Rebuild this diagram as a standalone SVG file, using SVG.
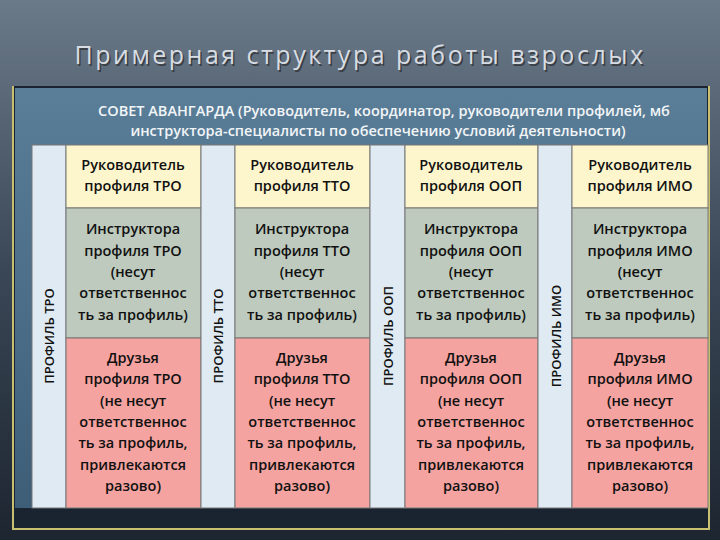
<svg xmlns="http://www.w3.org/2000/svg" width="720" height="540" viewBox="0 0 720 540">
<defs>
<linearGradient id="bg" x1="0" y1="0" x2="0" y2="1"><stop offset="0" stop-color="#6b7a89"/><stop offset="0.5" stop-color="#3a4756"/><stop offset="1" stop-color="#1d2530"/></linearGradient>
<linearGradient id="pn" x1="0" y1="0" x2="0" y2="1"><stop offset="0" stop-color="#5a7e98"/><stop offset="1" stop-color="#3e5e78"/></linearGradient>
<style>
.t{font-family:"Open Sans","DejaVu Sans",sans-serif;font-size:14.5px;font-weight:600;text-anchor:middle;fill:#111}
.s{font-family:"Open Sans","DejaVu Sans",sans-serif;font-size:13px;font-weight:600;text-anchor:middle;fill:#111}
.h{fill:#fdf6cc;stroke:#777;stroke-width:1}
.i{fill:#bdcabd;stroke:#777;stroke-width:1}
.f{fill:#f4a3a0;stroke:#777;stroke-width:1}
.v{fill:#dfeaf2;stroke:#777;stroke-width:1}
</style>
</defs>
<rect width="720" height="540" fill="url(#bg)"/>
<text x="360" y="64" font-family="'Open Sans','DejaVu Sans',sans-serif" font-size="25" letter-spacing="2.5" text-anchor="middle" fill="#222" opacity="0.6" dx="1.5" dy="1.5">Примерная структура работы взрослых</text>
<text x="360" y="64" font-family="'Open Sans','DejaVu Sans',sans-serif" font-size="25" letter-spacing="2.5" text-anchor="middle" fill="#d8dde3">Примерная структура работы взрослых</text>
<rect x="12" y="86" width="697" height="444" fill="#1a2430"/>
<rect x="15" y="88" width="692" height="420" fill="url(#pn)"/>
<path d="M13 86V529H709V86" fill="none" stroke="#c8c070" stroke-width="2"/>
<g id="council" font-family="'Open Sans','DejaVu Sans',sans-serif" font-size="14.5" font-weight="600" text-anchor="middle" fill="#f2f5f7">
<text x="384" y="116">СОВЕТ АВАНГАРДА (Руководитель, координатор, руководители профилей, мб</text>
<text x="378" y="136">инструктора-специалисты по обеспечению условий деятельности)</text>
</g>
<g id="col-tro">
<rect class="v" x="32" y="145" width="34" height="363"/>
<text class="s" transform="translate(54,336) rotate(-90)">ПРОФИЛЬ ТРО</text>
<rect class="h" x="66" y="145" width="135" height="63"/>
<text class="t" x="133" y="170">Руководитель</text><text class="t" x="133" y="191">профиля ТРО</text>
<rect class="i" x="66" y="208" width="135" height="130"/>
<text class="t" x="133" y="234">Инструктора</text><text class="t" x="133" y="256">профиля ТРО</text><text class="t" x="133" y="277">(несут</text><text class="t" x="133" y="298">ответственнос</text><text class="t" x="133" y="320">ть за профиль)</text>
<rect class="f" x="66" y="338" width="135" height="170"/>
<text class="t" x="133" y="363">Друзья</text><text class="t" x="133" y="384">профиля ТРО</text><text class="t" x="133" y="406">(не несут</text><text class="t" x="133" y="427">ответственнос</text><text class="t" x="133" y="448">ть за профиль,</text><text class="t" x="133" y="470">привлекаются</text><text class="t" x="133" y="491">разово)</text>
</g>
<g id="col-tto">
<rect class="v" x="201" y="145" width="34" height="363"/>
<text class="s" transform="translate(223,336) rotate(-90)">ПРОФИЛЬ ТТО</text>
<rect class="h" x="235" y="145" width="135" height="63"/>
<text class="t" x="302" y="170">Руководитель</text><text class="t" x="302" y="191">профиля ТТО</text>
<rect class="i" x="235" y="208" width="135" height="130"/>
<text class="t" x="302" y="234">Инструктора</text><text class="t" x="302" y="256">профиля ТТО</text><text class="t" x="302" y="277">(несут</text><text class="t" x="302" y="298">ответственнос</text><text class="t" x="302" y="320">ть за профиль)</text>
<rect class="f" x="235" y="338" width="135" height="170"/>
<text class="t" x="302" y="363">Друзья</text><text class="t" x="302" y="384">профиля ТТО</text><text class="t" x="302" y="406">(не несут</text><text class="t" x="302" y="427">ответственнос</text><text class="t" x="302" y="448">ть за профиль,</text><text class="t" x="302" y="470">привлекаются</text><text class="t" x="302" y="491">разово)</text>
</g>
<g id="col-oop">
<rect class="v" x="370" y="145" width="35" height="363"/>
<text class="s" transform="translate(393,336) rotate(-90)">ПРОФИЛЬ ООП</text>
<rect class="h" x="405" y="145" width="133" height="63"/>
<text class="t" x="471" y="170">Руководитель</text><text class="t" x="471" y="191">профиля ООП</text>
<rect class="i" x="405" y="208" width="133" height="130"/>
<text class="t" x="471" y="234">Инструктора</text><text class="t" x="471" y="256">профиля ООП</text><text class="t" x="471" y="277">(несут</text><text class="t" x="471" y="298">ответственнос</text><text class="t" x="471" y="320">ть за профиль)</text>
<rect class="f" x="405" y="338" width="133" height="170"/>
<text class="t" x="471" y="363">Друзья</text><text class="t" x="471" y="384">профиля ООП</text><text class="t" x="471" y="406">(не несут</text><text class="t" x="471" y="427">ответственнос</text><text class="t" x="471" y="448">ть за профиль,</text><text class="t" x="471" y="470">привлекаются</text><text class="t" x="471" y="491">разово)</text>
</g>
<g id="col-imo">
<rect class="v" x="538" y="145" width="34" height="363"/>
<text class="s" transform="translate(561,336) rotate(-90)">ПРОФИЛЬ ИМО</text>
<rect class="h" x="572" y="145" width="136" height="63"/>
<text class="t" x="640" y="170">Руководитель</text><text class="t" x="640" y="191">профиля ИМО</text>
<rect class="i" x="572" y="208" width="136" height="130"/>
<text class="t" x="640" y="234">Инструктора</text><text class="t" x="640" y="256">профиля ИМО</text><text class="t" x="640" y="277">(несут</text><text class="t" x="640" y="298">ответственнос</text><text class="t" x="640" y="320">ть за профиль)</text>
<rect class="f" x="572" y="338" width="136" height="170"/>
<text class="t" x="640" y="363">Друзья</text><text class="t" x="640" y="384">профиля ИМО</text><text class="t" x="640" y="406">(не несут</text><text class="t" x="640" y="427">ответственнос</text><text class="t" x="640" y="448">ть за профиль,</text><text class="t" x="640" y="470">привлекаются</text><text class="t" x="640" y="491">разово)</text>
</g>
<g id="connectors"/>
</svg>
